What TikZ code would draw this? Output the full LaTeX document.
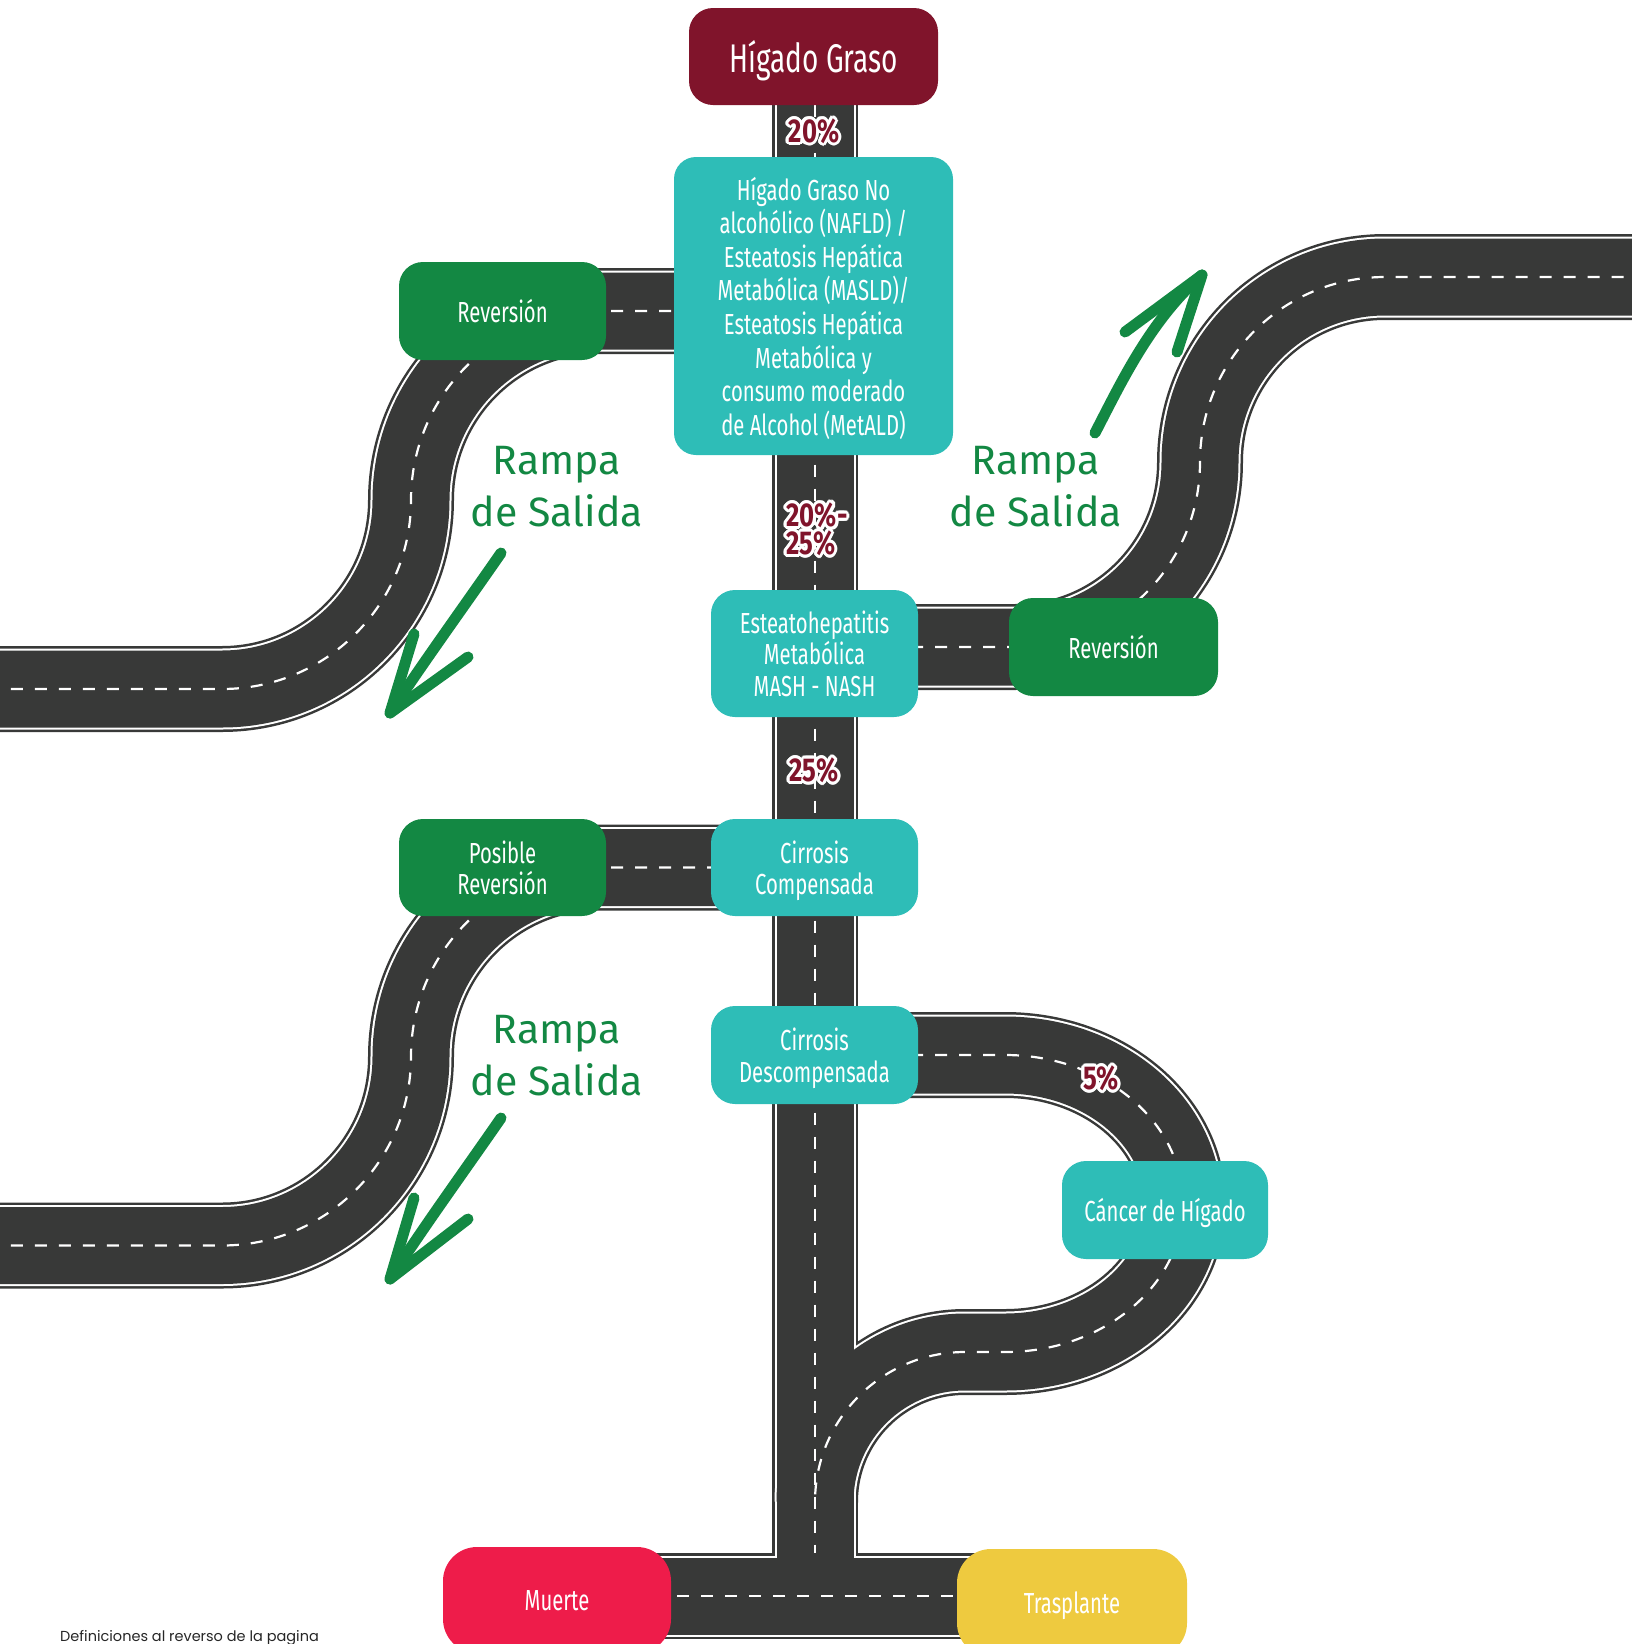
\documentclass[tikz,border=0pt]{standalone}
\usepackage{fontspec}
\newfontfamily\condfont{Fira Sans}[FakeStretch=0.7]
\newfontfamily\pctfont{Fira Sans}[FakeStretch=0.78]
\newfontfamily\handfont{Fira Sans}
\newfontfamily\notefont{Poppins}
\usetikzlibrary{positioning,calc,backgrounds}

\definecolor{vino}{HTML}{80142B}
\definecolor{turquesa}{HTML}{2EBDB7}
\definecolor{verde}{HTML}{138843}
\definecolor{asfalto}{HTML}{383938}
\definecolor{rojo}{HTML}{EE1C4A}
\definecolor{amarillo}{HTML}{EECA3F}

% trazados de las carreteras
\def\caminoCentral{(fin |- graso.center) -- (fin)}
\def\caminoRevA{(revA -| fin) -- (600,311) .. controls (495.6,311) and (411,395.6) .. (411,500)
  .. controls (411,604.4) and (326.4,689) .. (222,689) -- (-20,689)}
\def\caminoRevB{(revB -| fin) -- (1015,647) .. controls (1117.2,647) and (1200,564.8) .. (1200,462)
  .. controls (1200,359.8) and (1282.8,277) .. (1385,277) -- (1660,277)}
\def\caminoPosible{(posible -| fin) -- (600,867.5) .. controls (495.6,867.5) and (411,952.1) .. (411,1056.5)
  .. controls (411,1160.9) and (326.4,1245.5) .. (222,1245.5) -- (-20,1245.5)}
\def\caminoCancer{(descomp -| fin) -- (1005,1055) .. controls (1103.3,1055) and (1183,1121.5) .. (1183,1203.5)
  .. controls (1183,1285.5) and (1103.3,1352) .. (1005,1352) -- (965,1352)
  .. controls (882.2,1352) and (815,1419.2) .. (815,1502)}
\def\caminoFinal{(muerte |- fin) -- (trasplante |- fin)}

% porcentaje con borde blanco
\newcommand{\etiqueta}[3]{%
  \foreach \ang in {0,22.5,...,337.5}
    \node[pct, text=white, shift={(\ang:3pt)}] at (#2) {#3};
  \node[pct, text=vino] (#1) at (#2) {#3};}

\begin{document}
\begin{tikzpicture}[x=1pt, y=-1pt,
  caja/.style={rounded corners=24pt, minimum width=207pt, minimum height=98pt, inner sep=0pt,
    text depth=-4pt, text=white, align=center, font=\condfont\fontsize{29}{31.5}\selectfont},
  etapa/.style={caja, fill=turquesa},
  salida/.style={caja, fill=verde},
  linea/.style={draw=white, line width=2.2pt, dash pattern=on 12pt off 12pt},
  pct/.style={font=\pctfont\bfseries\fontsize{33}{28}\selectfont, align=left, inner sep=0pt},
  rampa/.style={text=verde, align=center, font=\handfont\fontsize{41}{52}\selectfont},
  flecha/.style={draw=verde, line width=11pt, line cap=round, line join=round}]

\useasboundingbox (0,0) rectangle (1632,1644);
\coordinate (fin) at (815,1596);

% estaciones
\node[caja, fill=vino, minimum width=249pt, minimum height=97pt,
  font=\condfont\fontsize{40}{44}\selectfont] (graso) at (813.5,56.5) {Hígado Graso};
\node[etapa, minimum width=279pt, minimum height=298pt, rounded corners=22pt, text depth=-8pt,
  font=\condfont\fontsize{29}{33.6}\selectfont] (nafld) at (813.5,306)
  {Hígado Graso No\\alcohólico (NAFLD) /\\Esteatosis Hepática\\Metabólica (MASLD)/\\
   Esteatosis Hepática\\Metabólica y\\consumo moderado\\de Alcohol (MetALD)};
\node[salida] (revA) at (502.5,311) {Reversión};
\node[etapa, minimum height=127pt, text depth=-13pt] (mash) at (814.5,653.5) {Esteatohepatitis\\Metabólica\\MASH - NASH};
\node[salida, minimum width=209pt] (revB) at (1113.5,647) {Reversión};
\node[etapa, minimum height=97pt] (compensada) at (814.5,867.5) {Cirrosis\\Compensada};
\node[salida, minimum height=97pt] (posible) at (502.5,867.5) {Posible\\Reversión};
\node[etapa] (descomp) at (814.5,1055) {Cirrosis\\Descompensada};
\node[etapa, minimum width=206pt] (cancer) at (1165,1210) {Cáncer de Hígado};
\node[caja, fill=rojo, minimum width=228pt, minimum height=106pt, rounded corners=34pt] (muerte) at (557,1600) {Muerte};
\node[caja, fill=amarillo, minimum width=230pt, minimum height=108pt, rounded corners=34pt] (trasplante) at (1072,1603) {Trasplante};

% carreteras
\begin{pgfonlayer}{background}
  \foreach \ancho/\tono in {86/asfalto, 81/white, 77/asfalto}{
    \draw[line width=\ancho pt, draw=\tono] \caminoFinal;
    \draw[line width=\ancho pt, draw=\tono] \caminoCentral;
    \draw[line width=\ancho pt, draw=\tono] \caminoRevA;
    \draw[line width=\ancho pt, draw=\tono] \caminoRevB;
    \draw[line width=\ancho pt, draw=\tono] \caminoPosible;
    \draw[line width=\ancho pt, draw=\tono] \caminoCancer;
  }
  \draw[linea] (fin |- graso.center) -- (815,1553);
  \draw[linea] \caminoRevA;
  \draw[linea] \caminoRevB;
  \draw[linea] \caminoPosible;
  \draw[linea] \caminoCancer;
  \draw[linea] \caminoFinal;
\end{pgfonlayer}

% porcentajes
\etiqueta{p1}{814,131}{20\%}
\etiqueta{p2}{817,529}{20\%-\\25\%}
\etiqueta{p3}{814,770}{25\%}
\etiqueta{p4}{1101,1078}{5\%}

% rampas de salida
\node[rampa] (rampaA) at (557,487) {Rampa\\de Salida};
\node[rampa] (rampaB) at (1036,487) {Rampa\\de Salida};
\node[rampa] (rampaC) at (557,1056) {Rampa\\de Salida};

\coordinate (colaA) at (501,553);  \coordinate (puntaA) at (390,713);
\coordinate (colaB) at (1095,433); \coordinate (puntaB) at (1202,275);
\coordinate (colaC) at (501,1118); \coordinate (puntaC) at (390,1279);
\draw[flecha] (colaA) .. controls (465,605) and (425,660) .. (puntaA);
\draw[flecha] (414,634) -- (puntaA) -- (468,657);
\draw[flecha] (colaB) .. controls (1120,385) and (1150,320) .. (puntaB);
\draw[flecha] (1125,332) -- (puntaB) -- (1177,352);
\draw[flecha] (colaC) .. controls (465,1170) and (425,1225) .. (puntaC);
\draw[flecha] (414,1198) -- (puntaC) -- (468,1219);

\node[font=\notefont\fontsize{14.5}{16}\selectfont, anchor=base west, inner sep=0pt, text=black!85]
  (nota) at (60,1641) {Definiciones al reverso de la pagina};
\end{tikzpicture}
\end{document}
